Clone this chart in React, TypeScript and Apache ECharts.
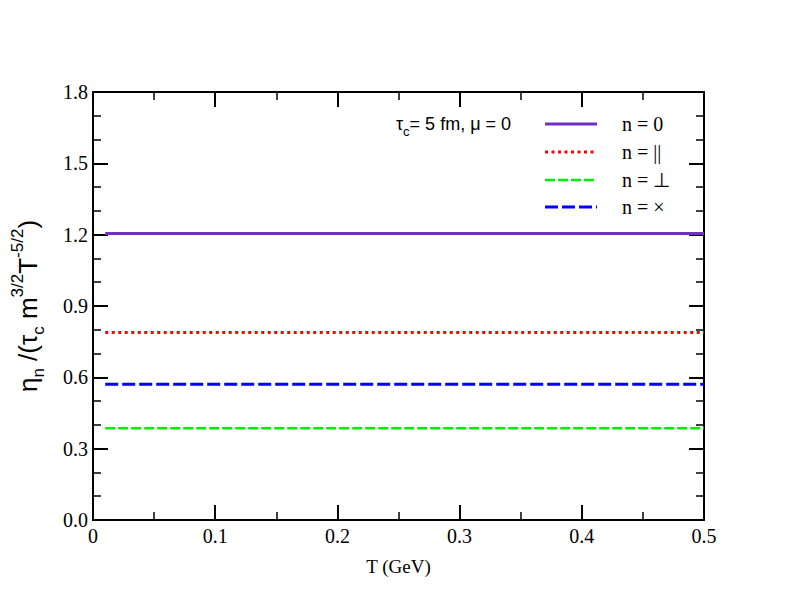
import React, { useEffect, useRef } from "react";
import * as echarts from "echarts";

const tValues = [0.01, 0.1, 0.2, 0.3, 0.4, 0.5];
const etaZero = [1.205, 1.205, 1.205, 1.205, 1.205, 1.205];
const etaPar = [0.789, 0.789, 0.789, 0.789, 0.789, 0.789];
const etaPerp = [0.386, 0.386, 0.386, 0.386, 0.386, 0.386];
const etaCross = [0.571, 0.571, 0.571, 0.571, 0.571, 0.571];
const seriesNames = ["n = 0", "n = ||", "n = \u22a5", "n = \u00d7"];
const seriesColors = ["#7030c4", "#ff0000", "#00ee00", "#0000ff"];

const serif = "Liberation Serif";
const sans = "Liberation Sans";

export default function App() {
  const ref = useRef<HTMLDivElement>(null);
  useEffect(() => {
    if (!ref.current) return;
    const chart = echarts.init(ref.current, undefined, { renderer: "svg" });
    const mk = (vals: number[]) => tValues.map((t, i) => [t, vals[i]]);
    const lineStyles = [
      { width: 3, type: "solid" as any },
      { width: 3, type: [3, 3.5] as any },
      { width: 2.5, type: [10, 3] as any },
      { width: 3, type: [13, 4] as any },
    ];
    const dataSets = [etaZero, etaPar, etaPerp, etaCross];
    const axisCommon = {
      axisLine: { show: true, onZero: false, lineStyle: { color: "#000", width: 2 } },
      axisTick: { show: true, inside: true, length: 15, lineStyle: { color: "#000", width: 2 } },
      minorTick: { show: true, length: 8, lineStyle: { color: "#000", width: 1.5 } },
      splitLine: { show: false },
    };
    const off = 8;
    const legendX0 = 545 - off;
    const legendX1 = 597 - off;
    const legendYs = [124, 152, 180, 207].map((y) => y - off);
    const legendGraphics: any[] = [];
    legendYs.forEach((y, i) => {
      legendGraphics.push({
        type: "line",
        shape: { x1: legendX0, y1: y, x2: legendX1, y2: y },
        style: { stroke: seriesColors[i], lineWidth: lineStyles[i].width, lineDash: lineStyles[i].type === "solid" ? null : lineStyles[i].type },
      });
      legendGraphics.push({
        type: "text",
        x: 622 - off,
        y: y,
        style: { text: seriesNames[i], fontFamily: serif, fontSize: 20, fill: "#000", verticalAlign: "middle" },
      });
    });
    legendGraphics.push({
      type: "text",
      x: 396 - off,
      y: 124 - off,
      style: {
        text: "{a|\u03c4}{s|c}{a|= 5 fm, \u03bc = 0}",
        verticalAlign: "middle",
        rich: {
          a: { fontFamily: sans, fontSize: 18, fill: "#000", lineHeight: 28, verticalAlign: "middle" },
          s: { fontFamily: sans, fontSize: 13, fill: "#000", lineHeight: 28, verticalAlign: "bottom" },
        },
      },
    });
    chart.setOption({
      animation: false,
      textStyle: { fontFamily: serif },
      grid: { left: 85, right: 80, top: 84, bottom: 84, outerBoundsMode: "none", containLabel: false },
      xAxis: [
        {
          type: "value", min: 0, max: 0.5, interval: 0.1,
          ...axisCommon,
          minorTick: { ...axisCommon.minorTick, splitNumber: 2 },
          axisLabel: {
            fontFamily: serif, fontSize: 20, color: "#000", margin: 6,
            formatter: (v: number) => (v === 0 ? "0" : v.toFixed(1)),
          },
          name: "T (GeV)", nameLocation: "middle", nameGap: 37,
          nameTextStyle: { fontFamily: serif, fontSize: 19, color: "#000" },
        },
        {
          type: "value", min: 0, max: 0.5, interval: 0.1, position: "top",
          ...axisCommon,
          minorTick: { ...axisCommon.minorTick, splitNumber: 2 },
          axisLabel: { show: false },
        },
      ],
      yAxis: [
        {
          type: "value", min: 0, max: 1.8, interval: 0.3,
          ...axisCommon,
          minorTick: { ...axisCommon.minorTick, splitNumber: 3 },
          axisLabel: {
            fontFamily: serif, fontSize: 20, color: "#000", margin: 5,
            formatter: (v: number) => v.toFixed(1),
          },
          name: "{a|\u03b7}{s|n}{a| /(\u03c4}{s|c}{a| m}{p|3/2}{a|T}{p|-5/2}{a|)}",
          nameLocation: "middle", nameGap: 46,
          nameTextStyle: {
            rich: {
              a: { fontFamily: sans, fontSize: 26, color: "#000", lineHeight: 38, verticalAlign: "middle" },
              s: { fontFamily: sans, fontSize: 17, color: "#000", lineHeight: 38, verticalAlign: "bottom" },
              p: { fontFamily: sans, fontSize: 17, color: "#000", lineHeight: 38, verticalAlign: "top" },
            },
          },
        },
        {
          type: "value", min: 0, max: 1.8, interval: 0.3, position: "right",
          ...axisCommon,
          minorTick: { ...axisCommon.minorTick, splitNumber: 3 },
          axisLabel: { show: false },
        },
      ],
      series: dataSets.map((d, i) => ({
        type: "line",
        name: seriesNames[i],
        data: mk(d),
        showSymbol: false,
        symbol: "none",
        lineStyle: { color: seriesColors[i], width: lineStyles[i].width, type: lineStyles[i].type },
      })),
      graphic: legendGraphics,
    });
    return () => chart.dispose();
  }, []);
  return <div ref={ref} style={{ width: 776, height: 596 }} />;
}
